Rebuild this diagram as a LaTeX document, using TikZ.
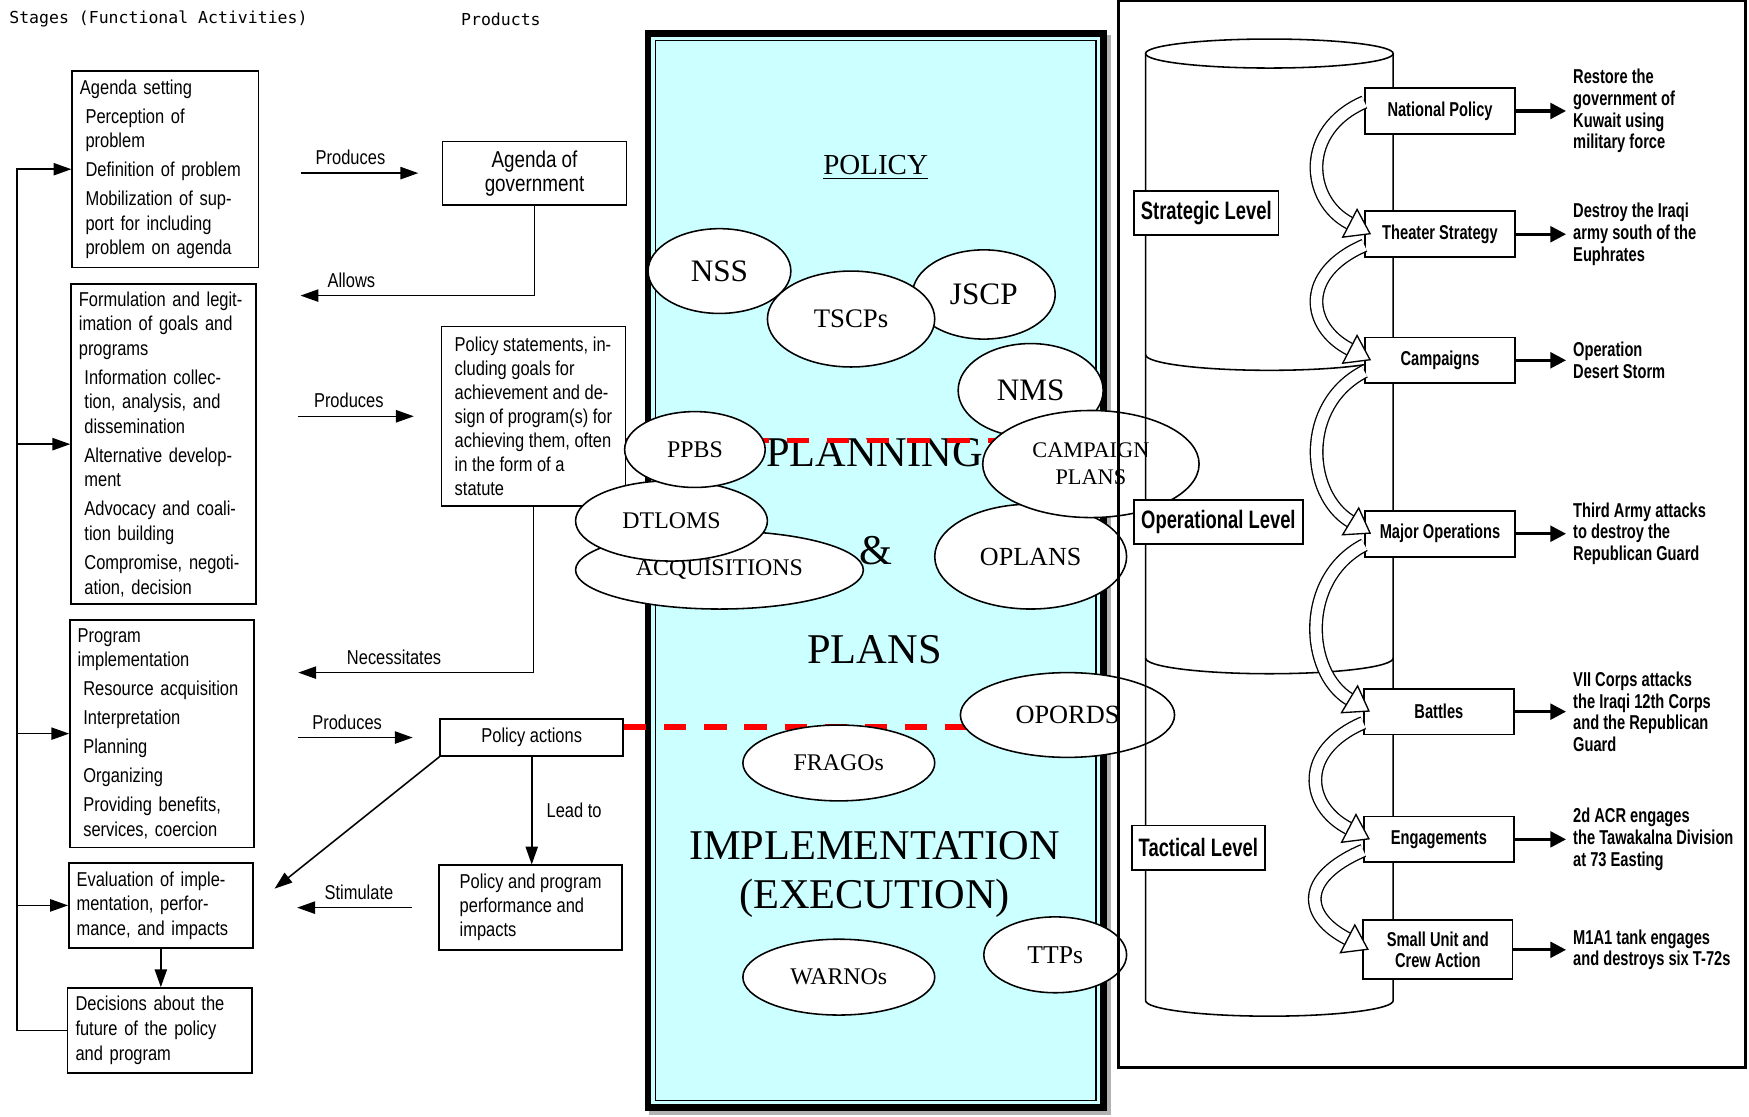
\documentclass[tikz,border=0pt]{standalone}
\usepackage{fontspec}
\setmainfont{Liberation Serif}
\newfontfamily\stagefont[FakeStretch=0.82]{Liberation Sans}
\newfontfamily\armyfont[FakeStretch=0.73]{Liberation Sans}
\newfontfamily\headfont{DejaVu Sans Mono}
\usetikzlibrary{shapes.geometric, arrows.meta}
\definecolor{cyanbg}{RGB}{204,255,255}
\newcommand{\ind}{\hspace*{2.5pt}}

\tikzset{
  stage/.style={draw, line width=0.7pt, anchor=north west, align=left, inner xsep=3.5pt, inner ysep=0pt, font=\stagefont\fontsize{9}{11}\selectfont},
  prodbox/.style={draw, line width=0.7pt, anchor=north west, align=left, inner sep=0pt, font=\stagefont\fontsize{9}{10.8}\selectfont},
  flow/.style={line width=0.7pt, -{Triangle[length=8pt, width=5.5pt]}},
  cue/.style={font=\stagefont\fontsize{9}{11}\selectfont},
  planoval/.style={ellipse, draw, fill=white, line width=0.7pt, inner sep=0pt},
  bigtext/.style={font=\fontsize{19}{22}\selectfont, inner sep=0pt},
  reddash/.style={red, line width=2.5pt, dash pattern=on 10pt off 8pt},
  tierbox/.style={draw, fill=white, line width=0.8pt, anchor=west, minimum height=20pt, inner xsep=3pt, font=\armyfont\bfseries\fontsize{11.3}{13}\selectfont},
  stepbox/.style={draw, fill=white, line width=0.8pt, minimum width=67pt, minimum height=20.5pt, inner sep=1pt, align=center, font=\armyfont\bfseries\fontsize{9}{9.5}\selectfont},
  outcome/.style={anchor=west, align=left, inner sep=3pt, font=\armyfont\bfseries\fontsize{9}{9.7}\selectfont},
  lead/.style={line width=1.4pt, -{Triangle[length=7pt, width=7pt]}},
  wave/.style={line width=0.6pt, double=white, double distance=5pt, -{Triangle[length=11pt, width=15pt, fill=white, line width=0.6pt]}}
}

\begin{document}
\begin{tikzpicture}[x=0.5pt, y=-0.5pt]
    \useasboundingbox (0,0) rectangle (1568,1001);
    \fill[white] (0,0) rectangle (1568,1001);

    % policy process (left)
    \node[anchor=west, inner sep=0pt, font=\headfont\fontsize{7.4}{9}\selectfont] (stagehead) at (8,17) {Stages (Functional Activities)};
    \node[anchor=west, inner sep=0pt, font=\headfont\fontsize{7.4}{9}\selectfont] (prodhead) at (413,17) {Products};

    \node[stage, text width=76.5pt, minimum height=88pt] (agenda) at (64,63) {Agenda setting\\[2pt]
        \ind Perception of\\ \ind problem\\[2pt]
        \ind Definition of problem\\[2pt]
        \ind Mobilization of sup-\\ \ind port for including\\ \ind problem on agenda};
    \node[stage, text width=76pt, minimum height=143.5pt] (form) at (63,254) {Formulation and legit-\\imation of goals and\\programs\\[2pt]
        \ind Information collec-\\ \ind tion, analysis, and\\ \ind dissemination\\[2pt]
        \ind Alternative develop-\\ \ind ment\\[2pt]
        \ind Advocacy and coali-\\ \ind tion building\\[2pt]
        \ind Compromise, negoti-\\ \ind ation, decision};
    \node[stage, text width=75.5pt, minimum height=102pt] (impl) at (62,555) {Program\\implementation\\[2pt]
        \ind Resource acquisition\\[2pt]
        \ind Interpretation\\[2pt]
        \ind Planning\\[2pt]
        \ind Organizing\\[2pt]
        \ind Providing benefits,\\ \ind services, coercion};
    \node[stage, text width=75.5pt, minimum height=38pt] (eval) at (61,773) {Evaluation of imple-\\mentation, perfor-\\mance, and impacts};
    \node[stage, text width=75.5pt, minimum height=38pt] (dec) at (60,885) {Decisions about the\\future of the policy\\and program};

    \node[prodbox, align=center, minimum width=82.5pt, minimum height=28.5pt, font=\stagefont\fontsize{10.3}{10.8}\selectfont] (agov) at (396,126) {Agenda of\\government};
    \node[prodbox, minimum width=82.5pt, minimum height=80.5pt] (ps) at (395,292) {Policy statements, in-\\cluding goals for\\achievement and de-\\sign of program(s) for\\achieving them, often\\in the form of a\\statute};
    \node[prodbox, align=center, minimum width=82pt, minimum height=16.5pt] (pa) at (394,644) {Policy actions};
    \node[prodbox, minimum width=82pt, minimum height=38pt] (ppi) at (393,775) {Policy and program\\performance and\\impacts};

    \draw[flow, shorten <=18.5pt, shorten >=10.5pt] (agenda.east |- agov) -- (agov) node[cue, midway, above] {Produces};
    \draw[flow, shorten >=19.5pt] (agov.south) |- (form.east |- 0,265) node[cue, pos=0.83, above] {Allows};
    \draw[flow, shorten <=18.5pt, shorten >=12pt] (form.east |- ps) -- (ps) node[cue, midway, above] {Produces};
    \draw[flow, shorten >=19.5pt] (ps.south) |- (impl.east |- 0,603) node[cue, pos=0.75, above] {Necessitates};
    \draw[flow, shorten <=19.5pt, shorten >=12pt] (impl.east |- pa) -- (pa) node[cue, midway, above] {Produces};
    \draw[flow] (pa.south) -- (pa.south |- ppi.north) node[cue, midway, right=3pt] {Lead to};
    \draw[flow, shorten >=12pt] (pa.south west) -- (eval.east);
    \draw[flow, shorten <=12pt, shorten >=19.5pt] (ppi.west) -- (eval.east |- ppi.west) node[cue, pos=0.43, above] {Stimulate};
    \draw[flow] (eval.south) -- (eval.south |- dec.north);

    % feedback loop
    \coordinate (fbtop) at ([xshift=-24.5pt]agenda.west);
    \draw[flow] (dec.west) -| (fbtop) -- (agenda.west);
    \draw[flow] (fbtop |- form.west) -- (form.west);
    \draw[flow] (fbtop |- impl.west) -- (impl.west);
    \draw[flow] (fbtop |- eval.west) -- (eval.west);

    % planning panel (middle)
    \fill[gray!60] (582,31) rectangle (996,1000);
    \fill[cyanbg] (578,27) rectangle (992,996);
    \draw[line width=3pt] (581,30) rectangle (989,993);
    \draw[line width=0.6pt] (587.5,36.5) rectangle (982.5,986.5);

    \node[font=\fontsize{13}{15}\selectfont] (policy) at (785,150) {\underline{POLICY}};
    \node[bigtext] (planning) at (784,406) {PLANNING};
    \node[bigtext] (amp) at (785,494) {\&};
    \node[bigtext] (plans) at (784,582) {PLANS};
    \node[bigtext, align=center] (exec) at (784,784) {IMPLEMENTATION\\(EXECUTION)};

    \coordinate (redend1) at (900,395);
    \coordinate (redend2) at (900,652);
    \draw[reddash] (ps.east |- redend1) -- (redend1);
    \draw[reddash] (pa.east |- redend2) -- (redend2);

    \node[planoval, minimum width=64pt, minimum height=40pt, font=\fontsize{14}{16}\selectfont] (jscp) at (882,264) {JSCP};
    \node[planoval, minimum width=64pt, minimum height=38pt, font=\fontsize{14}{16}\selectfont] (nss) at (645,243) {NSS};
    \node[planoval, minimum width=75pt, minimum height=43pt, font=\fontsize{12}{14}\selectfont] (tscp) at (763,286) {TSCPs};
    \node[planoval, minimum width=65pt, minimum height=42pt, font=\fontsize{14}{16}\selectfont] (nms) at (924,350) {NMS};
    \node[planoval, minimum width=86pt, minimum height=47pt, font=\fontsize{11.7}{14}\selectfont] (oplans) at (924,499) {OPLANS};
    \node[planoval, minimum width=97pt, minimum height=48pt, align=center, font=\fontsize{10}{12}\selectfont] (camp) at (978,416) {CAMPAIGN\\PLANS};
    \node[planoval, minimum width=129pt, minimum height=35pt, font=\fontsize{10.7}{13}\selectfont] (acq) at (645,511) {ACQUISITIONS};
    \node[planoval, minimum width=86pt, minimum height=36pt, font=\fontsize{10.7}{13}\selectfont] (dtloms) at (602,467) {DTLOMS};
    \node[planoval, minimum width=63pt, minimum height=34pt, font=\fontsize{10.7}{13}\selectfont] (ppbs) at (623,403) {PPBS};
    \node[planoval, minimum width=96pt, minimum height=38pt, font=\fontsize{11.8}{14}\selectfont] (opords) at (957,641) {OPORDS};
    \node[planoval, minimum width=86pt, minimum height=34pt, font=\fontsize{10.7}{13}\selectfont] (fragos) at (752,684) {FRAGOs};
    \node[planoval, minimum width=86pt, minimum height=34pt, font=\fontsize{10.7}{13}\selectfont] (warnos) at (752,876) {WARNOs};
    \node[planoval, minimum width=64pt, minimum height=34pt, font=\fontsize{11.5}{13}\selectfont] (ttps) at (946,856) {TTPs};

    % levels of war (right)
    \draw[line width=1.2pt] (1003,1) rectangle (1565,957);
    \draw[line width=0.7pt] (1138,48) ellipse [x radius=55.5pt, y radius=6.5pt];
    \draw[line width=0.7pt] (1027,48) -- (1027,897) arc[start angle=180, end angle=360, x radius=55.5pt, y radius=7pt] -- (1249,48);
    \draw[line width=0.7pt] (1027,318) arc[start angle=180, end angle=360, x radius=55.5pt, y radius=7pt];
    \draw[line width=0.7pt] (1027,590) arc[start angle=180, end angle=360, x radius=55.5pt, y radius=7pt];

    \node[tierbox, minimum width=64pt] (strat) at (1016,191) {Strategic Level};
    \node[tierbox, minimum width=75.5pt] (oper) at (1016,468) {Operational Level};
    \node[tierbox, minimum width=59pt] (tact) at (1014,760) {Tactical Level};

    \node[stepbox] (np) at (1291,99.5) {National Policy};
    \node[stepbox] (ts) at (1291,210) {Theater Strategy};
    \node[stepbox] (cp) at (1291,323) {Campaigns};
    \node[stepbox] (mo) at (1291,478.5) {Major Operations};
    \node[stepbox] (ba) at (1290,638) {Battles};
    \node[stepbox] (en) at (1290,752.5) {Engagements};
    \node[stepbox, minimum height=26.5pt] (su) at (1289,851.5) {Small Unit and\\Crew Action};

    \draw[wave] ([yshift=4pt]np.west) .. controls +(-58,25) and +(-58,-30) .. ([xshift=3pt]ts.west);
    \draw[wave] ([yshift=-5pt]ts.west) .. controls +(-58,25) and +(-58,-30) .. ([xshift=3pt]cp.west);
    \draw[wave] ([yshift=-5pt]cp.west) .. controls +(-58,30) and +(-58,-35) .. ([xshift=3pt]mo.west);
    \draw[wave] ([yshift=-5pt]mo.west) .. controls +(-58,30) and +(-58,-35) .. ([xshift=3pt]ba.west);
    \draw[wave] ([yshift=-5pt]ba.west) .. controls +(-58,25) and +(-58,-30) .. ([xshift=3pt]en.west);
    \draw[wave] ([yshift=-5pt]en.west) .. controls +(-58,25) and +(-58,-30) .. ([xshift=3pt]su.west);

    \node[outcome] (npo) at (1404,99.5) {Restore the\\government of\\Kuwait using\\military force};
    \node[outcome] (tso) at (1404,210) {Destroy the Iraqi\\army south of the\\Euphrates};
    \node[outcome] (cpo) at (1404,323) {Operation\\Desert Storm};
    \node[outcome] (moo) at (1404,478.5) {Third Army attacks\\to destroy the\\Republican Guard};
    \node[outcome] (bao) at (1404,638) {VII Corps attacks\\the Iraqi 12th Corps\\and the Republican\\Guard};
    \node[outcome] (eno) at (1404,752.5) {2d ACR engages\\the Tawakalna Division\\at 73 Easting};
    \node[outcome] (suo) at (1404,851.5) {M1A1 tank engages\\and destroys six T-72s};

    \draw[lead] (np) -- (npo);
    \draw[lead] (ts) -- (tso);
    \draw[lead] (cp) -- (cpo);
    \draw[lead] (mo) -- (moo);
    \draw[lead] (ba) -- (bao);
    \draw[lead] (en) -- (eno);
    \draw[lead] (su) -- (suo);
\end{tikzpicture}
\end{document}
